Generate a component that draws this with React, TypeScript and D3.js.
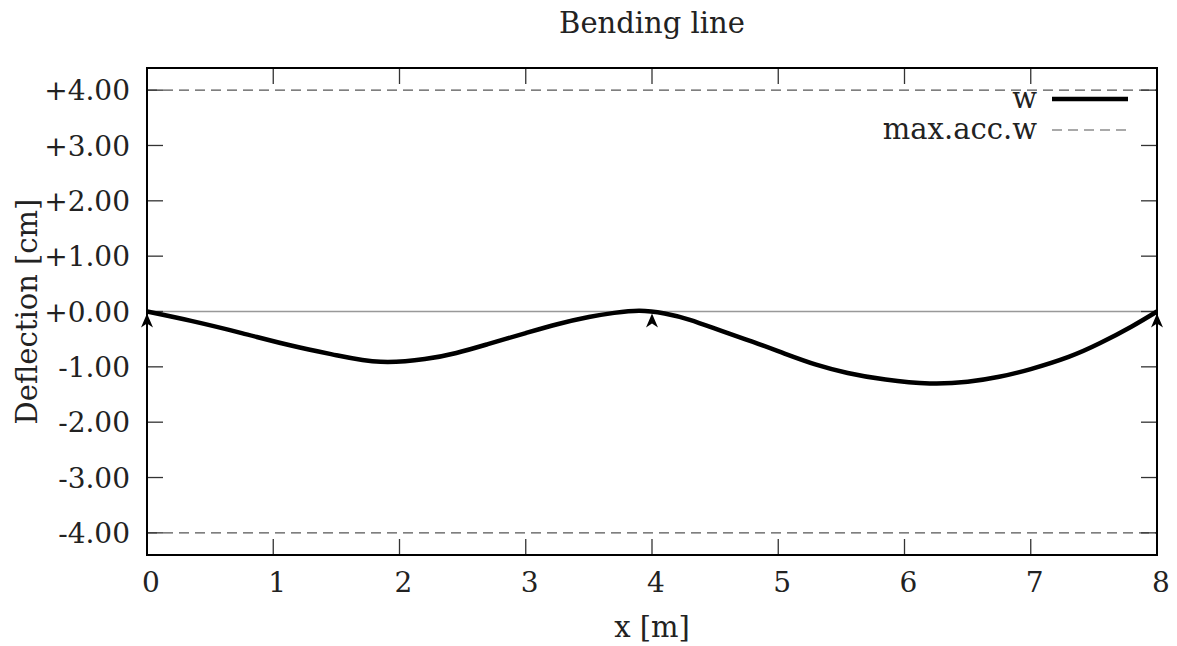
import React, { useEffect, useRef } from "react";
import * as d3 from "d3";

// beam deflection
const xPos = [0, 0.35, 0.75, 1.15, 1.5, 1.85, 2.2, 2.45, 2.7, 3.0, 3.25, 3.5, 3.7, 3.9, 4.1,
  4.3, 4.55, 4.8, 5.05, 5.3, 5.55, 5.85, 6.2, 6.5, 6.75, 7.0, 7.3, 7.55, 7.8, 8.0];
const wVals = [0, -0.17, -0.39, -0.62, -0.79, -0.91, -0.86, -0.75, -0.59, -0.39, -0.23, -0.1, -0.025, 0.015, -0.035,
  -0.15, -0.35, -0.55, -0.76, -0.96, -1.11, -1.23, -1.3, -1.27, -1.18, -1.04, -0.82, -0.57, -0.27, 0];
const supports = [0, 4, 8];
const maxAcc = [4, -4];
const xTicks = [0, 1, 2, 3, 4, 5, 6, 7, 8];
const yTicks = [-4, -3, -2, -1, 0, 1, 2, 3, 4];
const legendLabels = ["w", "max.acc.w"];

const fmt = (v: number) => (v >= 0 ? "+" : "-") + Math.abs(v).toFixed(2);

export default function App() {
  const ref = useRef<SVGSVGElement>(null);

  useEffect(() => {
    const width = 1177, height = 646;
    const margin = { top: 68, right: 20, bottom: 91, left: 147 };
    const iw = width - margin.left - margin.right, ih = height - margin.top - margin.bottom;
    const font = "'DejaVu Serif', serif";

    const svg = d3.select(ref.current).attr("width", width).attr("height", height);
    svg.selectAll("*").remove();
    const g = svg.append("g").attr("transform", `translate(${margin.left},${margin.top})`);

    const x = d3.scaleLinear().domain([0, 8]).range([0, iw]);
    const y = d3.scaleLinear().domain([-4.4, 4.4]).range([ih, 0]);

    // zero line
    g.append("line").attr("x1", 0).attr("x2", iw).attr("y1", y(0)).attr("y2", y(0))
      .attr("stroke", "#999").attr("stroke-width", 1.5);

    // max accepted deflection
    g.selectAll(".maxacc").data(maxAcc).join("line").attr("class", "maxacc")
      .attr("x1", 0).attr("x2", iw).attr("y1", d => y(d)).attr("y2", d => y(d))
      .attr("stroke", "#555").attr("stroke-width", 1.2).attr("stroke-dasharray", "10,6");

    // ticks (mirrored, inward)
    const tl = 16;
    yTicks.forEach(t => {
      g.append("line").attr("x1", 0).attr("x2", tl).attr("y1", y(t)).attr("y2", y(t)).attr("stroke", "#333").attr("stroke-width", 1.3);
      g.append("line").attr("x1", iw - tl).attr("x2", iw).attr("y1", y(t)).attr("y2", y(t)).attr("stroke", "#333").attr("stroke-width", 1.3);
      g.append("text").attr("x", -17).attr("y", y(t)).attr("dy", "0.36em").attr("text-anchor", "end")
        .attr("font-family", font).attr("font-size", 28).attr("fill", "#222").text(fmt(t));
    });
    xTicks.forEach(t => {
      g.append("line").attr("x1", x(t)).attr("x2", x(t)).attr("y1", ih).attr("y2", ih - tl).attr("stroke", "#333").attr("stroke-width", 1.3);
      g.append("line").attr("x1", x(t)).attr("x2", x(t)).attr("y1", 0).attr("y2", tl).attr("stroke", "#333").attr("stroke-width", 1.3);
      g.append("text").attr("x", x(t) + 4).attr("y", ih + 37).attr("text-anchor", "middle")
        .attr("font-family", font).attr("font-size", 28).attr("fill", "#222").text(String(t));
    });

    // bending line
    const line = d3.line<number>().x((d, i) => x(xPos[i])).y(d => y(d)).curve(d3.curveNatural);
    g.append("path").datum(wVals).attr("d", line).attr("fill", "none").attr("stroke", "#000")
      .attr("stroke-width", 4.5).attr("stroke-linejoin", "round");

    // supports
    g.selectAll(".support").data(supports).join("path").attr("class", "support")
      .attr("transform", d => `translate(${x(d)},${y(0) + 2})`)
      .attr("d", "M0,0L-6,14L0,10L6,14Z").attr("fill", "#000");

    // frame
    g.append("rect").attr("width", iw).attr("height", ih).attr("fill", "none")
      .attr("stroke", "#000").attr("stroke-width", 2);

    // legend
    const lx = 1037 - margin.left, ly = [99, 130].map(v => v - margin.top);
    legendLabels.forEach((lab, i) => {
      g.append("text").attr("x", lx).attr("y", ly[i]).attr("dy", "0.3em").attr("text-anchor", "end")
        .attr("font-family", font).attr("font-size", 29).attr("fill", "#222").text(lab);
      g.append("line").attr("x1", lx + 15).attr("x2", lx + 91).attr("y1", ly[i]).attr("y2", ly[i])
        .attr("stroke", i === 0 ? "#000" : "#555").attr("stroke-width", i === 0 ? 4.5 : 1.2)
        .attr("stroke-dasharray", i === 0 ? null : "10,6");
    });

    // titles
    svg.append("text").attr("x", margin.left + iw / 2).attr("y", 33).attr("text-anchor", "middle")
      .attr("font-family", font).attr("font-size", 29).attr("fill", "#222").text("Bending line");
    svg.append("text").attr("x", margin.left + iw / 2).attr("y", 637).attr("text-anchor", "middle")
      .attr("font-family", font).attr("font-size", 29).attr("fill", "#222").text("x [m]");
    svg.append("text").attr("transform", `translate(37,${margin.top + y(0)}) rotate(-90)`).attr("text-anchor", "middle")
      .attr("font-family", font).attr("font-size", 29).attr("fill", "#222").text("Deflection [cm]");
  }, []);

  return <svg ref={ref} style={{ position: "absolute", left: 0, top: 0, background: "#fff" }}></svg>;
}
